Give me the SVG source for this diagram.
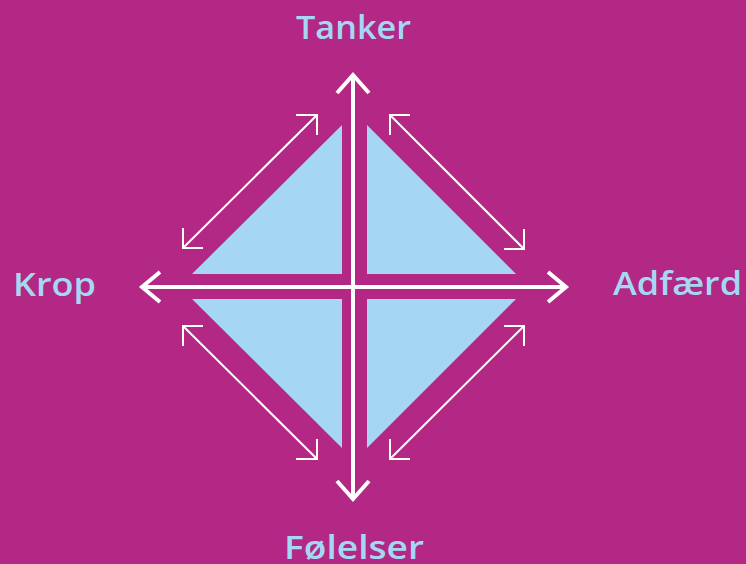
<svg xmlns="http://www.w3.org/2000/svg" width="746" height="564" viewBox="0 0 746 564">
<style>
.lbl{font-family:"Open Sans","Liberation Sans",sans-serif;font-weight:600;font-size:32px;fill:#A6D7F2}
.tri{fill:#A6D7F2}
.axis{stroke:#fff;stroke-width:4;fill:none;stroke-linecap:butt;stroke-linejoin:miter}
.diag{stroke:#fff;stroke-width:2;fill:none;stroke-linejoin:miter}
</style>
<rect width="746" height="564" fill="#B32884"/>
<g id="quadrants">
<polygon class="tri" points="192,274 342,274 342,125"/>
<polygon class="tri" points="367,125 367,274 516,274"/>
<polygon class="tri" points="192,299 342,299 342,448"/>
<polygon class="tri" points="367,299 516,299 367,448"/>
</g>
<g id="connectors">
<line class="axis" x1="353" y1="76" x2="353" y2="498"/>
<polyline class="axis" points="337,93 353,75 369,93"/>
<polyline class="axis" points="337,481 353,499 369,481"/>
<line class="axis" x1="143" y1="287" x2="565" y2="287"/>
<polyline class="axis" points="160,272 142,287 160,302"/>
<polyline class="axis" points="548,272 566,287 548,302"/>
<line class="diag" x1="183" y1="248" x2="317" y2="115"/>
<polyline class="diag" points="296,115 317,115 317,135"/>
<polyline class="diag" points="183,228 183,248 203,248"/>
<line class="diag" x1="390" y1="115" x2="524" y2="249"/>
<polyline class="diag" points="410,115 390,115 390,135"/>
<polyline class="diag" points="504,249 524,249 524,229"/>
<line class="diag" x1="183" y1="326" x2="317" y2="459"/>
<polyline class="diag" points="203,326 183,326 183,346"/>
<polyline class="diag" points="296,459 317,459 317,439"/>
<line class="diag" x1="524" y1="326" x2="390" y2="459"/>
<polyline class="diag" points="504,326 524,326 524,346"/>
<polyline class="diag" points="390,439 390,459 410,459"/>
</g>
<g id="tanker"><text class="lbl" x="296" y="39" textLength="115" lengthAdjust="spacingAndGlyphs">Tanker</text></g>
<g id="krop"><text class="lbl" x="13" y="296" textLength="83" lengthAdjust="spacingAndGlyphs">Krop</text></g>
<g id="adfaerd"><text class="lbl" x="613" y="295" textLength="129" lengthAdjust="spacingAndGlyphs">Adfærd</text></g>
<g id="folelser"><text class="lbl" x="284" y="559" textLength="140" lengthAdjust="spacingAndGlyphs">Følelser</text></g>
</svg>
